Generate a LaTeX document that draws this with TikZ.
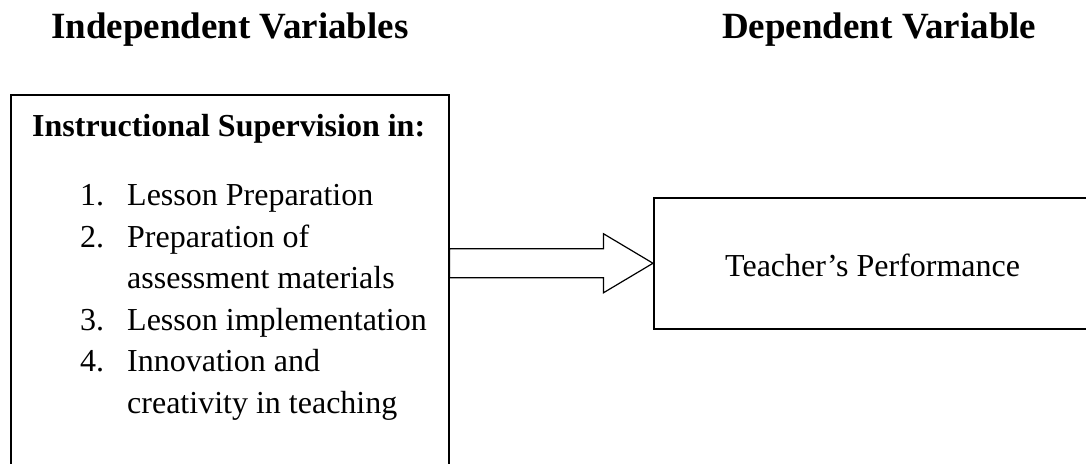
\documentclass[tikz,border=0pt]{standalone}
\usepackage{fontspec}
\setmainfont{Liberation Serif}
\usepackage{tikz}
\usetikzlibrary{positioning,calc}

\begin{document}
\begin{tikzpicture}[x=1pt,y=-1pt,
  boxline/.style={draw, line width=1.5pt, inner sep=0pt},
  headtext/.style={anchor=base west, inner sep=0pt, font=\fontsize{37}{44}\selectfont\bfseries},
  bodytext/.style={anchor=base west, inner sep=0pt, font=\fontsize{32}{41}\selectfont}]
\useasboundingbox (0,0) rectangle (1086,463);
\clip (0,0) rectangle (1086,463);
% headings
\node[headtext] (indephead) at (51,38) {Independent Variables};
\node[headtext] (dephead) at (722,38) {Dependent Variable};
% boxes (both run past the page edge)
\node[boxline, minimum width=438pt, minimum height=400pt, anchor=north west] (indep) at (10,94) {};
\node[boxline, minimum width=450pt, minimum height=131pt, anchor=north west] (dep) at (653,197) {};
\node[bodytext, font=\fontsize{32}{41}\selectfont\bfseries] (supervision) at (32,136) {Instructional Supervision in:};
\foreach \y/\num/\txt [count=\i] in {205/1./Lesson Preparation, 247/2./Preparation of,
    288.5//assessment materials, 330/3./Lesson implementation,
    371.5/4./Innovation and, 413//creativity in teaching} {
  \node[bodytext] (num\i) at (80,\y) {\num};
  \node[bodytext] (item\i) at (127,\y) {\txt};
}
\node[bodytext] (performance) at (725,276) {Teacher’s Performance};
% block arrow
\coordinate (shaft) at (indep.east |- dep.west);
\draw[line width=1.2pt, line join=miter] ($(shaft)+(0,-14.5)$) -- ++(154,0) -- ++(0,-15)
  -- (dep.west) -- ($(shaft)+(154,29.5)$) -- ++(0,-15) -- ($(shaft)+(0,14.5)$) -- cycle;
\end{tikzpicture}
\end{document}
